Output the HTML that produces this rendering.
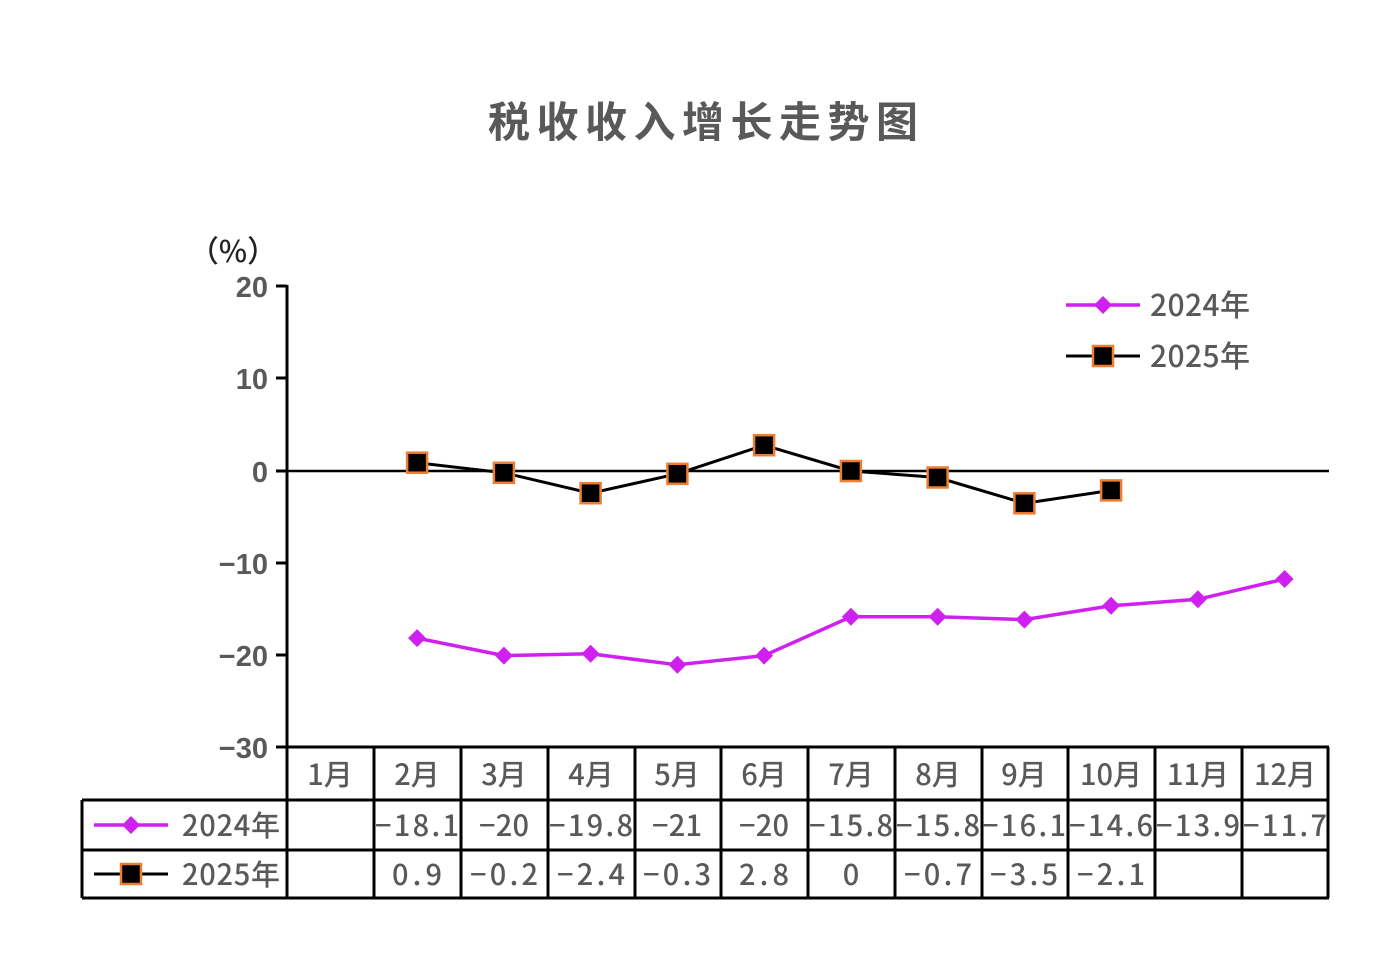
<!DOCTYPE html>
<html><head><meta charset="utf-8"><style>
html,body{margin:0;padding:0;background:#fff}
svg{display:block}
text{font-family:"Liberation Sans","Noto Sans CJK SC",sans-serif;fill:#595959}
.c{font-family:"Noto Sans CJK SC","Liberation Sans",sans-serif;font-weight:500}
</style></head><body>
<svg width="1386" height="968" viewBox="0 0 1386 968" xmlns="http://www.w3.org/2000/svg">
<text x="703" y="137" text-anchor="middle" font-size="42" class="c" style="font-weight:600" textLength="430" lengthAdjust="spacing">税收收入增长走势图</text>
<text x="233" y="262" text-anchor="middle" font-size="30" class="c" style="fill:#222">（%）</text>
<g stroke="#000" stroke-width="3">
<line x1="287" y1="285" x2="287" y2="748"/>
<line x1="276" y1="286" x2="287" y2="286"/>
<line x1="276" y1="378" x2="287" y2="378"/>
<line x1="276" y1="471" x2="287" y2="471"/>
<line x1="276" y1="563" x2="287" y2="563"/>
<line x1="276" y1="655" x2="287" y2="655"/>
<line x1="276" y1="747" x2="287" y2="747"/>
</g>
<line x1="287" y1="471" x2="1329" y2="471" stroke="#000" stroke-width="2.5"/>
<g font-size="29" text-anchor="end" font-weight="bold">
<text x="268" y="297">20</text>
<text x="268" y="389">10</text>
<text x="268" y="482">0</text>
<text x="268" y="574">−10</text>
<text x="268" y="666">−20</text>
<text x="268" y="758">−30</text>
</g>
<polyline fill="none" stroke="#D020F0" stroke-width="3.5" points="417.1,638.1 503.9,655.6 590.6,653.8 677.4,664.8 764.1,655.6 850.9,616.8 937.6,616.8 1024.4,619.6 1111.1,605.8 1197.9,599.3 1284.6,579"/>
<g fill="#D020F0">
<path d="M417.1,629.1l9,9l-9,9l-9,-9z"/><path d="M503.9,646.6l9,9l-9,9l-9,-9z"/><path d="M590.6,644.8l9,9l-9,9l-9,-9z"/><path d="M677.4,655.8l9,9l-9,9l-9,-9z"/><path d="M764.1,646.6l9,9l-9,9l-9,-9z"/><path d="M850.9,607.8l9,9l-9,9l-9,-9z"/><path d="M937.6,607.8l9,9l-9,9l-9,-9z"/><path d="M1024.4,610.6l9,9l-9,9l-9,-9z"/><path d="M1111.1,596.8l9,9l-9,9l-9,-9z"/><path d="M1197.9,590.3l9,9l-9,9l-9,-9z"/><path d="M1284.6,570l9,9l-9,9l-9,-9z"/>
</g>
<polyline fill="none" stroke="#000" stroke-width="3" points="417.1,462.7 503.9,472.8 590.6,493.2 677.4,473.8 764.1,445.2 850.9,471 937.6,477.5 1024.4,503.3 1111.1,490.4"/>
<g fill="#000" stroke="#ED7D31" stroke-width="2.5">
<rect x="407.1" y="452.7" width="20" height="20"/><rect x="493.9" y="462.8" width="20" height="20"/><rect x="580.6" y="483.2" width="20" height="20"/><rect x="667.4" y="463.8" width="20" height="20"/><rect x="754.1" y="435.2" width="20" height="20"/><rect x="840.9" y="461" width="20" height="20"/><rect x="927.6" y="467.5" width="20" height="20"/><rect x="1014.4" y="493.3" width="20" height="20"/><rect x="1101.1" y="480.4" width="20" height="20"/>
</g>
<line x1="1066" y1="305" x2="1140" y2="305" stroke="#D020F0" stroke-width="3.5"/>
<path d="M1103,296l9,9l-9,9l-9,-9z" fill="#D020F0"/>
<text x="1150" y="316" font-size="30" class="c" textLength="100">2024年</text>
<line x1="1066" y1="356" x2="1140" y2="356" stroke="#000" stroke-width="3"/>
<rect x="1093" y="346" width="20" height="20" fill="#000" stroke="#ED7D31" stroke-width="2.5"/>
<text x="1150" y="367" font-size="30" class="c" textLength="100">2025年</text>
<g stroke="#000" stroke-width="3" fill="none">
<line x1="287" y1="747" x2="1329" y2="747"/>
<line x1="82" y1="800" x2="1329" y2="800"/>
<line x1="82" y1="850" x2="1329" y2="850"/>
<line x1="82" y1="898" x2="1329" y2="898"/>
<line x1="82" y1="800" x2="82" y2="898"/>
<line x1="287" y1="747" x2="287" y2="898"/>
<line x1="374" y1="747" x2="374" y2="898"/>
<line x1="461" y1="747" x2="461" y2="898"/>
<line x1="548" y1="747" x2="548" y2="898"/>
<line x1="635" y1="747" x2="635" y2="898"/>
<line x1="721" y1="747" x2="721" y2="898"/>
<line x1="808" y1="747" x2="808" y2="898"/>
<line x1="895" y1="747" x2="895" y2="898"/>
<line x1="982" y1="747" x2="982" y2="898"/>
<line x1="1068" y1="747" x2="1068" y2="898"/>
<line x1="1155" y1="747" x2="1155" y2="898"/>
<line x1="1242" y1="747" x2="1242" y2="898"/>
<line x1="1328" y1="747" x2="1328" y2="898"/>
</g>
<g font-size="29" text-anchor="middle">
<text class="c" x="330" y="785">1月</text><text class="c" x="417" y="785">2月</text><text class="c" x="504" y="785">3月</text><text class="c" x="591" y="785">4月</text><text class="c" x="677" y="785">5月</text><text class="c" x="764" y="785">6月</text><text class="c" x="851" y="785">7月</text><text class="c" x="938" y="785">8月</text><text class="c" x="1024" y="785">9月</text><text class="c" x="1111" y="785">10月</text><text class="c" x="1198" y="785">11月</text><text class="c" x="1285" y="785">12月</text>
<text class="c" x="417" y="836" textLength="84">−18.1</text><text class="c" x="504" y="836" textLength="50">−20</text><text class="c" x="591" y="836" textLength="84">−19.8</text><text class="c" x="677" y="836" textLength="50">−21</text><text class="c" x="764" y="836" textLength="50">−20</text><text class="c" x="851" y="836" textLength="84">−15.8</text><text class="c" x="938" y="836" textLength="84">−15.8</text><text class="c" x="1024" y="836" textLength="84">−16.1</text><text class="c" x="1111" y="836" textLength="84">−14.6</text><text class="c" x="1198" y="836" textLength="84">−13.9</text><text class="c" x="1285" y="836" textLength="84">−11.7</text>
<text class="c" x="417" y="885" textLength="50">0.9</text><text class="c" x="504" y="885" textLength="68">−0.2</text><text class="c" x="591" y="885" textLength="68">−2.4</text><text class="c" x="677" y="885" textLength="68">−0.3</text><text class="c" x="764" y="885" textLength="50">2.8</text><text class="c" x="851" y="885">0</text><text class="c" x="938" y="885" textLength="68">−0.7</text><text class="c" x="1024" y="885" textLength="68">−3.5</text><text class="c" x="1111" y="885" textLength="68">−2.1</text>
</g>
<line x1="94" y1="825" x2="168" y2="825" stroke="#D020F0" stroke-width="3.5"/>
<path d="M131,816l9,9l-9,9l-9,-9z" fill="#D020F0"/>
<text x="182" y="836" font-size="29" class="c" textLength="98">2024年</text>
<line x1="94" y1="874" x2="168" y2="874" stroke="#000" stroke-width="3"/>
<rect x="121" y="864" width="20" height="20" fill="#000" stroke="#ED7D31" stroke-width="2.5"/>
<text x="182" y="885" font-size="29" class="c" textLength="98">2025年</text>
</svg>
</body></html>
